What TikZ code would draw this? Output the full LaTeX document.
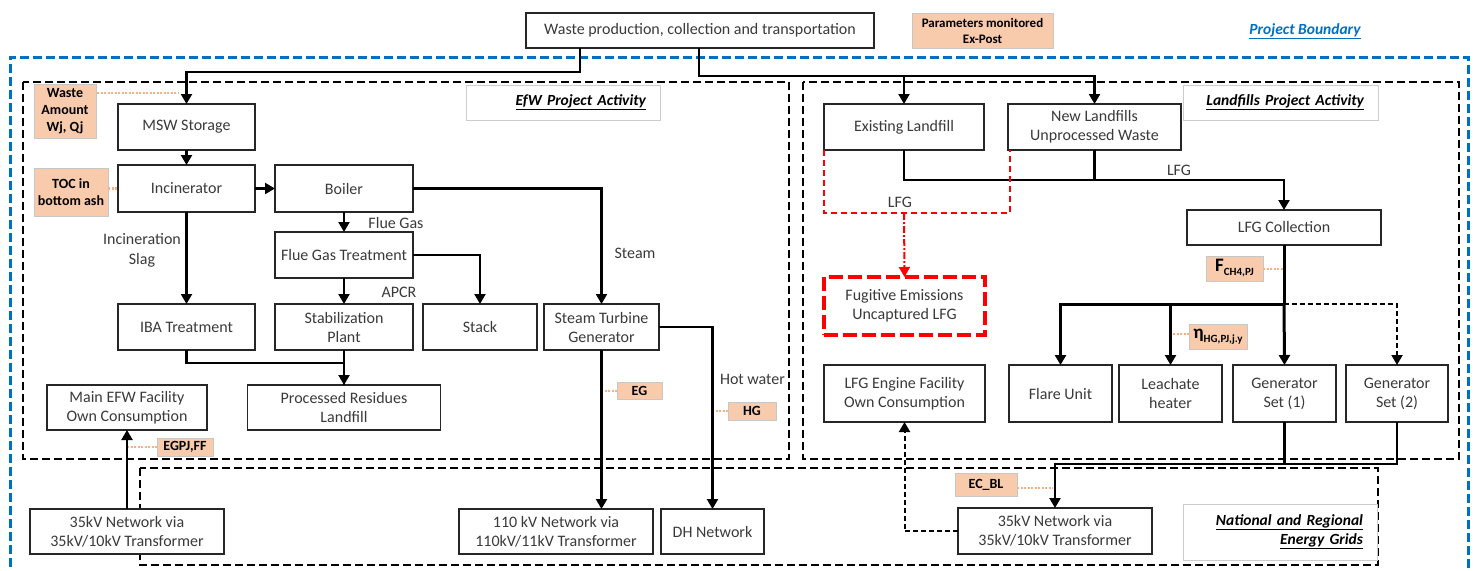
\documentclass[tikz,border=0pt]{standalone}
\usepackage{fontspec}
\setmainfont{Carlito}
\usetikzlibrary{arrows.meta}
\definecolor{peach}{HTML}{F8CBAD}
\definecolor{peachline}{HTML}{F4B183}
\definecolor{bblue}{HTML}{0070C0}
\definecolor{txt}{HTML}{3A3A3A}
\newcommand\bx[5]{\node[box,minimum width=#3pt,minimum height=#4pt] (#1) at (#2) {#5};}
\newcommand\pch[5]{\node[pbox,minimum width=#3pt,minimum height=#4pt] (#1) at (#2) {#5};}
\begin{document}
\begin{tikzpicture}[x=1pt,y=-1pt,
  box/.style={draw=black!85, line width=1.2pt, fill=white, inner sep=0pt, outer sep=0pt, align=center, text=txt, font=\fontsize{16}{19}\selectfont},
  pbox/.style={draw=black!22, line width=0.8pt, fill=peach, inner sep=0pt, outer sep=0pt, align=center, text=black, font=\bfseries\fontsize{14}{17}\selectfont},
  lbl/.style={draw=black!20, line width=0.8pt, fill=white, inner sep=0pt, outer sep=0pt, text=black, font=\bfseries\itshape\fontsize{15.5}{19}\selectfont},
  plain/.style={inner sep=0pt, text=txt, align=center, font=\fontsize{16}{20}\selectfont},
  conn/.style={line width=2.2pt, black},
  arr/.style={-{Triangle[width=11pt,length=10pt]}},
  trunk/.style={line width=3pt, black},
  dconn/.style={line width=2pt, black, dash pattern=on 5pt off 3pt},
  region/.style={draw=black, line width=2.8pt, dash pattern=on 8pt off 4pt},
  bluebound/.style={draw=bblue, line width=3pt, dash pattern=on 9pt off 4pt},
  redline/.style={draw=red, line width=2pt, dash pattern=on 6pt off 4pt},
  reddashdot/.style={draw=red, line width=2pt, dash pattern=on 7pt off 2pt on 2pt off 2pt},
  fugbox/.style={draw=red, line width=3.2pt, dash pattern=on 14pt off 5pt, fill=white, inner sep=0pt, outer sep=0pt, align=center, text=txt, font=\fontsize{16}{19}\selectfont},
  leader/.style={draw=peachline, line width=2.2pt, dash pattern=on 2pt off 1.5pt}
]
\useasboundingbox (0,0) rectangle (1474,570);
\fill[white] (0,0) rectangle (1474,570);

% boundaries
\draw[bluebound] (10,580) -- (10,57) -- (1468,57) -- (1468,580);
\draw[region] (23,82) rectangle (789,459);
\draw[region] (803,82) rectangle (1459,459);
\draw[region] (140,468) rectangle (1378,565);

% labels
\node[lbl, minimum width=194pt, minimum height=35pt, text width=166pt, align=right] (efwl) at (563,102.5) {\underline{EfW Project Activity}};
\node[lbl, minimum width=195pt, minimum height=35pt, text width=167pt, align=right] (lfl) at (1280.5,102.5) {\underline{Landfills Project Activity}};
\node[lbl, minimum width=194pt, minimum height=56pt, text width=166pt, align=right] (natl) at (1280,532) {\underline{National and Regional}\\\underline{Energy Grids}};
\node[inner sep=0pt, text=bblue, font=\bfseries\itshape\fontsize{15.5}{19}\selectfont] (pb) at (1305,31) {\underline{Project Boundary}};

% top
\bx{waste}{700,30.5}{348}{35}{Waste production, collection and transportation}
\node[pbox, minimum width=141pt, minimum height=35pt, font=\bfseries\fontsize{13}{16}\selectfont] (param) at (982.5,30.5) {Parameters monitored\\Ex-Post};

% EfW
\bx{msw}{186.5,127}{137}{46}{MSW Storage}
\bx{inc}{186.5,188.5}{137}{47}{Incinerator}
\bx{boiler}{344,188.5}{138}{47}{Boiler}
\bx{fgt}{344,255}{138}{46}{Flue Gas Treatment}
\bx{iba}{186.5,327}{137}{46}{IBA Treatment}
\bx{stab}{344,327}{138}{46}{Stabilization\\Plant}
\bx{stack}{480,327}{114}{46}{Stack}
\bx{stg}{601.5,327}{115}{46}{Steam Turbine\\Generator}
\bx{prl}{344,407.5}{193}{45}{Processed Residues\\Landfill}
\bx{mainefw}{127,407.5}{160}{45}{Main EFW Facility\\Own Consumption}
\bx{netl}{127,531.5}{194}{45}{35kV Network via\\35kV/10kV Transformer}
\bx{netm}{556,531.5}{194}{45}{110 kV Network via\\110kV/11kV Transformer}
\bx{dh}{712.5,531.5}{103}{45}{DH Network}

% Landfills
\bx{exist}{904,127}{160}{46}{Existing Landfill}
\bx{newlf}{1094.5,127}{173}{46}{New Landfills\\Unprocessed Waste}
\bx{lfgc}{1284,227.5}{194}{35}{LFG Collection}
\node[fugbox, minimum width=161pt, minimum height=58pt] (fug) at (904.5,306) {Fugitive Emissions\\Uncaptured LFG};
\bx{lfgeng}{904.5,393.5}{161}{57}{LFG Engine Facility\\Own Consumption}
\bx{flare}{1060.5,393.5}{103}{57}{Flare Unit}
\bx{leach}{1170.5,393.5}{103}{57}{Leachate\\heater}
\bx{gen1}{1284.5,393.5}{103}{57}{Generator\\Set (1)}
\bx{gen2}{1397,393.5}{102}{57}{Generator\\Set (2)}
\bx{netr}{1055,531}{194}{46}{35kV Network via\\35kV/10kV Transformer}

% parameter tags
\pch{wa}{65,111}{62}{54}{Waste\\Amount\\Wj, Qj}
\pch{toc}{71,192}{74}{48}{TOC in\\bottom ash}
\pch{egpj}{185,447}{56}{18}{EGPJ,FF}
\pch{eg}{639.5,390.5}{45}{17}{EG}
\pch{hg}{752,411}{48}{18}{HG}
\pch{ecbl}{986,484.5}{62}{23}{EC\_BL}
\pch{fch}{1234.5,268.5}{57}{25}{{\fontsize{19}{20}\selectfont F}\raisebox{-4pt}{\fontsize{11}{12}\selectfont CH4,PJ}}
\pch{eta}{1218,336.5}{58}{25}{{\fontsize{19}{20}\selectfont η}\raisebox{-4pt}{\fontsize{11}{12}\selectfont HG,PJ,j.y}}

% connector labels
\node[plain] (lslag) at (142,250) {Incineration\\Slag};
\node[plain] (lflue) at (396,223) {Flue Gas};
\node[plain] (lapcr) at (399,292) {APCR};
\node[plain] (lsteam) at (635,253) {Steam};
\node[plain] (lhot) at (752.5,379) {Hot water};
\node[plain] (llfg1) at (1179,170) {LFG};
\node[plain] (llfg2) at (900,202) {LFG};

% coordinates
\coordinate (j1) at (904,76);
\coordinate (rj) at (904,213);
\coordinate (tj) at (1284,304);
\coordinate (gj) at (1284.5,464);
\coordinate (wa1) at (97,93);
\coordinate (wa2) at (179,93);
\coordinate (eg1) at (603,391);
\coordinate (hg1) at (713,411);
\coordinate (ep1) at (128,447);
\coordinate (ec1) at (1053,488);
\coordinate (fc1) at (1283,269);
\coordinate (et1) at (1171,334);

% leaders
\draw[leader] (wa1) -- (wa2);
\draw[leader] (toc.east |- inc.west) -- (inc.west);
\draw[leader] (egpj.west) -- (ep1);
\draw[leader] (eg.west |- eg1) -- (eg1);
\draw[leader] (hg.west) -- (hg1);
\draw[leader] (ecbl.east |- ec1) -- (ec1);
\draw[leader] (fch.east |- fc1) -- (fc1);
\draw[leader] (eta.west |- et1) -- (et1);

% EfW connectors
\draw[conn,arr] ([xshift=-120pt]waste.south) -- ++(0,24) -| (msw.north);
\draw[conn,arr] ([xshift=-1pt]waste.south) -- ++(0,28) -| (newlf.north);
\draw[conn,arr] (j1) -- (exist.north);
\draw[conn,arr] (msw.south) -- (inc.north);
\draw[conn,arr] (inc.east) -- (boiler.west);
\draw[conn,arr] (inc.south) -- (iba.north);
\draw[conn,arr] (boiler.south) -- (fgt.north);
\draw[conn,arr] (fgt.south) -- (stab.north);
\draw[conn,arr] (fgt.east) -| (stack.north);
\draw[conn,arr] (boiler.east) -| (stg.north);
\draw[conn] (iba.south) -- ++(0,13) -| (prl.north);
\draw[conn,arr] (stab.south) -- (prl.north);
\draw[conn,arr] (stg.east) -| (dh.north);
\draw[conn,arr] (stg.south) -- (stg.south |- netm.north);
\draw[conn,arr] (netl.north) -- (mainefw.south);

% Landfill connectors
\draw[conn,arr] (exist.south) -- ++(0,30) -| (lfgc.north);
\draw[conn] (newlf.south) -- ++(0,30);
\draw[redline] (exist.south west) -- ++(0,63) -| ([xshift=2pt]newlf.south west);
\draw[reddashdot,-{Triangle[width=11pt,length=10pt]}] (rj) -- (fug.north);
\draw[trunk] (lfgc.south) -- (tj);
\draw[trunk,arr] (tj) -- (gen1.north);
\draw[trunk,arr] (tj) -| (flare.north);
\draw[conn,arr] (leach.north |- tj) -- (leach.north);
\draw[dconn,arr] (tj) -| (gen2.north);
\draw[conn,arr] (gen1.south) -- (gj) -| (netr.north);
\draw[conn] (gen2.south) |- (gj);
\draw[dconn,arr] (netr.west) -| (lfgeng.south);
\end{tikzpicture}
\end{document}
